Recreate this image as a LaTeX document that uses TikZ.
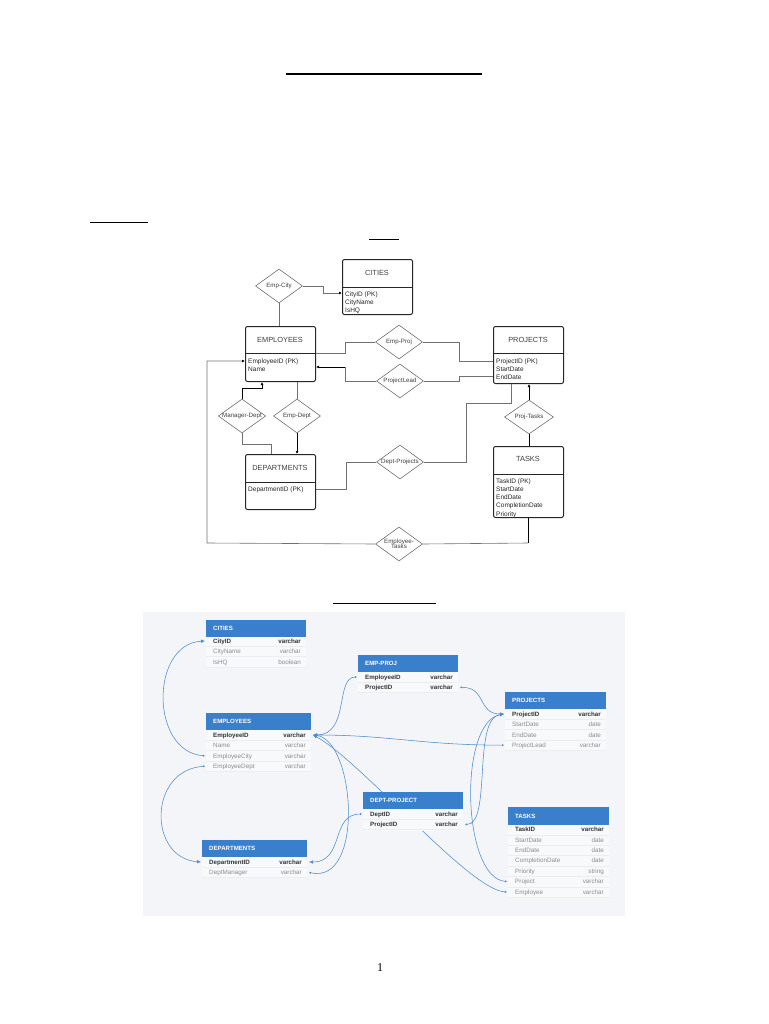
\documentclass[tikz,border=0pt]{standalone}
\usepackage{fontspec}
\setmainfont{Liberation Sans}
\newfontfamily\pgnumfont{Liberation Serif}
\usetikzlibrary{shapes.geometric,arrows.meta,calc}
\definecolor{hdrblue}{HTML}{3A7FCB}
\definecolor{lnblue}{HTML}{4C8BD0}
\definecolor{panel}{HTML}{F4F5F8}
\definecolor{erg}{HTML}{707070}
\newcommand\fsz[1]{\fontsize{#1}{#1}\selectfont}
% row of a blue table: id, x left, x right, y, style, name, type
\newcommand\brow[7]{%
  \draw[rowsep] (#2,#4+5.2) -- (#3,#4+5.2);
  \node[#5,anchor=base west] (#1) at (#2+7,#4+2.2) {#6};
  \node[#5,anchor=base east] (#1T) at (#3-5,#4+2.2) {#7};
  \coordinate (#1L) at (#2-1,#4);
  \coordinate (#1R) at (#3+2,#4);
}
\begin{document}
\begin{tikzpicture}[x=1pt,y=-1pt,
  erbox/.style={draw=black!85,line width=1pt,rounded corners=2pt,fill=white,inner sep=0,anchor=north west},
  erdiv/.style={draw=black!85,line width=0.8pt},
  ertitle/.style={font=\fsz{7.4},text=black!75,inner sep=0},
  erattr/.style={font=\fsz{6.5},text=black!85,inner sep=0,anchor=base west},
  rel/.style={diamond,draw=erg,line width=0.6pt,aspect=1.4,inner sep=0,minimum width=47pt,minimum height=34pt,font=\fsz{6.2},text=black!75,align=center,fill=white},
  erln/.style={draw=erg,line width=0.6pt},
  erblk/.style={draw=black,line width=0.8pt},
  ertip/.style={-{Latex[length=3pt,width=3pt,color=black]}},
  pline/.style={draw=black,line width=0.8pt},
  hdr/.style={fill=hdrblue,anchor=north west,minimum height=17pt,inner sep=0},
  hdrtxt/.style={anchor=west,text=white,font=\bfseries\fsz{6.1},inner sep=0},
  tbody/.style={fill=panel!60!white},
  rowsep/.style={draw=black!7,line width=0.3pt},
  key/.style={font=\bfseries\fsz{6.2},text=black!80,inner sep=0},
  plain/.style={font=\fsz{6.3},text=black!45,inner sep=0},
  bl/.style={draw=lnblue,line width=0.55pt},
  bb/.style={bl,{Latex[length=2pt,width=2.2pt]}-{Latex[length=4pt,width=3.6pt]}}
]
\useasboundingbox[fill=white] (0,0) rectangle (768,1024);

% ---------- page rules ----------
\draw[pline,line width=1.6pt] (286,74) -- (482,74);
\draw[pline] (90,222) -- (148,222);
\draw[pline] (369,239) -- (399,239);
\draw[pline] (333,603) -- (436,603);

% ---------- ER diagram ----------
\node[erbox,minimum width=70pt,minimum height=55pt] (cit) at (342,259) {};
\draw[erdiv] (342,287) -- (412,287);
\node[ertitle] (citT) at (377,273) {CITIES};
\node[erattr] (citA1) at (345,296.2) {CityID (PK)};
\node[erattr] (citA2) at (345,304.2) {CityName};
\node[erattr] (citA3) at (345,312.2) {IsHQ};

\node[erbox,minimum width=70pt,minimum height=55pt] (emp) at (245,326) {};
\draw[erdiv] (245,353) -- (315,353);
\node[ertitle] (empT) at (280,340) {EMPLOYEES};
\node[erattr] (empA1) at (248,363.2) {EmployeeID (PK)};
\node[erattr] (empA2) at (248,371.2) {Name};

\node[erbox,minimum width=70pt,minimum height=57pt] (proj) at (493,326) {};
\draw[erdiv] (493,353) -- (563,353);
\node[ertitle] (projT) at (528,340) {PROJECTS};
\node[erattr] (projA1) at (496,363.2) {ProjectID (PK)};
\node[erattr] (projA2) at (496,371.2) {StartDate};
\node[erattr] (projA3) at (496,379.2) {EndDate};

\node[erbox,minimum width=70pt,minimum height=55pt] (dept) at (245,454) {};
\draw[erdiv] (245,482) -- (315,482);
\node[ertitle] (deptT) at (280,468) {DEPARTMENTS};
\node[erattr] (deptA1) at (248,491.2) {DepartmentID (PK)};

\node[erbox,minimum width=70pt,minimum height=71pt] (tasks) at (493,446) {};
\draw[erdiv] (493,474) -- (563,474);
\node[ertitle] (tasksT) at (528,459) {TASKS};
\node[erattr] (tasksA1) at (496,483.2) {TaskID (PK)};
\node[erattr] (tasksA2) at (496,491.4) {StartDate};
\node[erattr] (tasksA3) at (496,499.6) {EndDate};
\node[erattr] (tasksA4) at (496,507.8) {CompletionDate};
\node[erattr] (tasksA5) at (496,516) {Priority};

% relationships
\node[rel] (ecity) at (279,286) {Emp-City};
\node[rel] (eproj) at (399,342) {Emp-Proj};
\node[rel] (plead) at (400,381) {ProjectLead};
\node[rel] (mdept) at (242,416) {Manager-Dept};
\node[rel] (edept) at (297,416) {Emp-Dept};
\node[rel] (dproj) at (400,462) {Dept-Projects};
\node[rel,minimum width=49pt] (ptask) at (529,417) {Proj-Tasks};
\node[rel] (etask) at (399,544) {Employee-\\[-1pt]Tasks};

% ER connectors
\draw[erln,ertip] (ecity.east) -- (323,286) -- (323,293) -- (cit.west |- 0,293);
\draw[erln] (ecity.south) -- (ecity.south |- emp.north);
\draw[erln] (emp.east |- 0,353) -- (345,353) -- (345,342) -- (eproj.west);
\draw[erln] (eproj.east) -- (459,342) -- (459,361) -- (proj.west |- 0,361);
\draw[erln] (proj.west |- 0,376) -- (459,376) -- (459,381) -- (plead.east);
\draw[erln] (plead.west) -- (345,381) -- (345,367) coordinate (plc);
\draw[erblk,ertip] (plc) -- (emp.east |- 0,367);
\draw[erln] (proj.south -| 511,0) -- (511,403) -- (466,403) -- (466,462) -- (dproj.east);
\draw[erln] (dproj.west) -- (346,462) -- (346,489) -- (dept.east |- 0,489);
\draw[erblk,ertip] (ptask.north) -- (ptask.north |- proj.south);
\draw[erblk] (tasks.north -| ptask.south) -- (ptask.south);
\draw[erblk] (tasks.south -| 528,0) -- (528,543) coordinate (tc);
\draw[erln] (tc) -- (etask.east);
\draw[erln,ertip] (etask.west) -- (207,543) -- (207,361) -- (emp.west |- 0,361);
\draw[erblk,ertip] (mdept.north) -- (242,388) -- (262,388) -- (emp.south -| 262,0);
\draw[erln] (mdept.south) -- (242,444) -- (271,444) -- (dept.north -| 271,0);
\draw[erln] (emp.south -| edept.north) -- (edept.north);
\draw[erblk,ertip] (edept.south) -- (edept.south |- dept.north);

% ---------- schema panel ----------
\fill[panel] (143,612) rectangle (625,916);

% coordinates of row ends (needed before drawing connectors)
\coordinate (cIdL) at (205,641);
\coordinate (eIdR) at (313,735);
\coordinate (eCityL) at (205,755.8);
\coordinate (eDeptL) at (205,766.2);
\coordinate (epEmpL) at (357,677);
\coordinate (epProjR) at (460,687.4);
\coordinate (pIdL) at (504,714);
\coordinate (pLeadL) at (504,745.2);
\coordinate (dpDeptL) at (362,814);
\coordinate (dpProjR) at (465,824.4);
\coordinate (tProjL) at (507,881.5);
\coordinate (tEmpL) at (507,891.9);
\coordinate (dIdL) at (201,862);
\coordinate (dIdR) at (309,862);
\coordinate (dMgrR) at (309,872.4);

% connectors
\draw[bb] (eCityL) .. controls (150,752) and (150,644) .. (cIdL);
\draw[bb] (eDeptL) .. controls (148,770) and (148,858) .. (dIdL);
\draw[bb] (epEmpL) .. controls (335,677) and (350,735) .. (eIdR);
\draw[bb] (epProjR) .. controls (487,687) and (477,714) .. (pIdL);
\draw[bb] (pLeadL) .. controls (420,745) and (390,735) .. (eIdR);
\draw[bb] (tEmpL) .. controls (470,891) and (360,760) .. (eIdR);
\draw[bb] (dMgrR) .. controls (365,885) and (355,740) .. (eIdR);
\draw[bb] (dpDeptL) .. controls (330,814) and (345,862) .. (dIdR);
\draw[bb] (dpProjR) .. controls (492,825) and (472,718) .. (pIdL);
\draw[bb] (tProjL) .. controls (462,878) and (458,722) .. (pIdL);

% CITIES
\fill[tbody] (206,637) rectangle (306,667);
\node[hdr,minimum width=100pt] (hCit) at (206,620) {};
\node[hdrtxt] (hCitT) at (213,628.5) {CITIES};
\brow{rCid}{206}{306}{641}{key}{CityID}{varchar}
\brow{rCnm}{206}{306}{651.4}{plain}{CityName}{varchar}
\brow{rChq}{206}{306}{661.8}{plain}{IsHQ}{boolean}

% EMPLOYEES
\fill[tbody] (206,730) rectangle (311,771.4);
\node[hdr,minimum width=105pt] (hEmp) at (206,713) {};
\node[hdrtxt] (hEmpT) at (213,721.5) {EMPLOYEES};
\brow{rEid}{206}{311}{735}{key}{EmployeeID}{varchar}
\brow{rEnm}{206}{311}{745.4}{plain}{Name}{varchar}
\brow{rEct}{206}{311}{755.8}{plain}{EmployeeCity}{varchar}
\brow{rEdp}{206}{311}{766.2}{plain}{EmployeeDept}{varchar}

% EMP-PROJ
\fill[tbody] (358,672) rectangle (458,692.6);
\node[hdr,minimum width=100pt] (hEp) at (358,655) {};
\node[hdrtxt] (hEpT) at (365,663.5) {EMP-PROJ};
\brow{rEpE}{358}{458}{677}{key}{EmployeeID}{varchar}
\brow{rEpP}{358}{458}{687.4}{key}{ProjectID}{varchar}

% PROJECTS
\fill[tbody] (505,709) rectangle (606,750.4);
\node[hdr,minimum width=101pt] (hPr) at (505,692) {};
\node[hdrtxt] (hPrT) at (512,700.5) {PROJECTS};
\brow{rPid}{505}{606}{714}{key}{ProjectID}{varchar}
\brow{rPsd}{505}{606}{724.4}{plain}{StartDate}{date}
\brow{rPed}{505}{606}{734.8}{plain}{EndDate}{date}
\brow{rPld}{505}{606}{745.2}{plain}{ProjectLead}{varchar}

% DEPT-PROJECT
\fill[tbody] (363,809) rectangle (463,831);
\node[hdr,minimum width=100pt] (hDp) at (363,792) {};
\node[hdrtxt] (hDpT) at (370,800.5) {DEPT-PROJECT};
\brow{rDpD}{363}{463}{814}{key}{DeptID}{varchar}
\brow{rDpP}{363}{463}{824.4}{key}{ProjectID}{varchar}

% TASKS
\fill[tbody] (508,825) rectangle (609,897.1);
\node[hdr,minimum width=101pt,minimum height=18pt] (hTk) at (508,807) {};
\node[hdrtxt] (hTkT) at (515,816) {TASKS};
\brow{rTid}{508}{609}{829.5}{key}{TaskID}{varchar}
\brow{rTsd}{508}{609}{839.9}{plain}{StartDate}{date}
\brow{rTed}{508}{609}{850.3}{plain}{EndDate}{date}
\brow{rTcd}{508}{609}{860.7}{plain}{CompletionDate}{date}
\brow{rTpr}{508}{609}{871.1}{plain}{Priority}{string}
\brow{rTpj}{508}{609}{881.5}{plain}{Project}{varchar}
\brow{rTem}{508}{609}{891.9}{plain}{Employee}{varchar}

% DEPARTMENTS
\fill[tbody] (202,857) rectangle (307,877.6);
\node[hdr,minimum width=105pt] (hDe) at (202,840) {};
\node[hdrtxt] (hDeT) at (209,848.5) {DEPARTMENTS};
\brow{rDid}{202}{307}{862}{key}{DepartmentID}{varchar}
\brow{rDmg}{202}{307}{872.4}{plain}{DeptManager}{varchar}

% page number
\node[font=\pgnumfont\fsz{12},inner sep=0] (pg) at (380,968) {1};
\end{tikzpicture}
\end{document}
